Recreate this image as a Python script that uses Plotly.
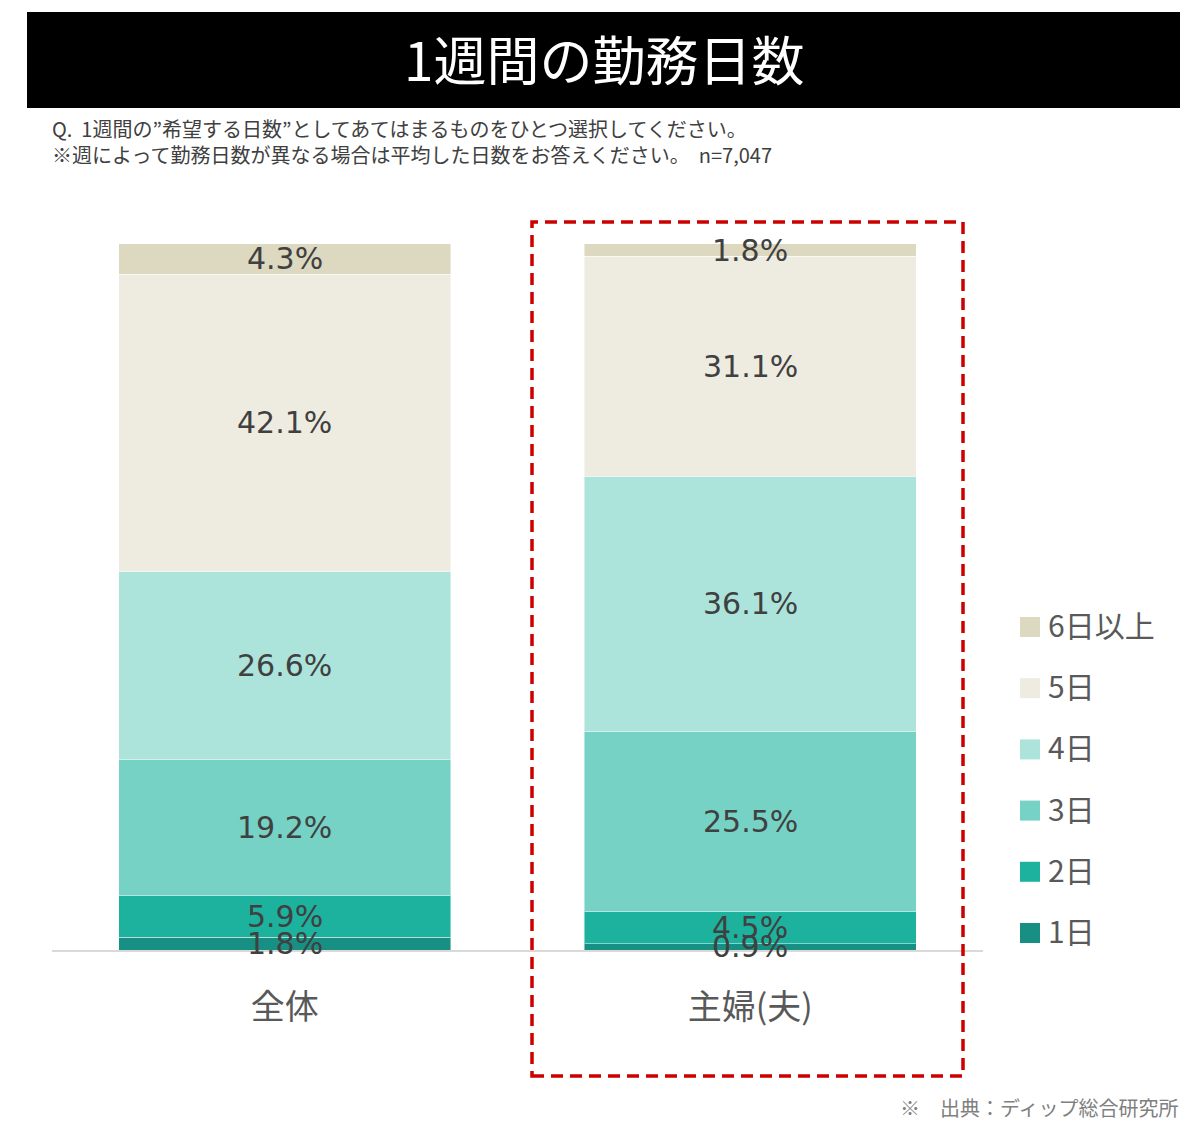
import plotly.graph_objects as go

# data
categories = ["全体", "主婦(夫)"]
series_names = ["1日", "2日", "3日", "4日", "5日", "6日以上"]
day1 = [1.8, 0.9]
day2 = [5.9, 4.5]
day3 = [19.2, 25.5]
day4 = [26.6, 36.1]
day5 = [42.1, 31.1]
day6_plus = [4.3, 1.8]

series_values = [day1, day2, day3, day4, day5, day6_plus]
colors = ["#178f82", "#1cb29e", "#76d2c4", "#ace4db", "#eeebe0", "#ddd8c0"]

W, H = 1200, 1142
OFF = 8  # page body margin
# plot area in reference pixels
PL, PR, PT, PB = 52, 983, 243, 950


def px_x(px):
    return (px - PL) / (PR - PL)


def px_y(py):
    return (PB - py) / (PB - PT)


fig = go.Figure()

for name, vals, color in zip(series_names, series_values, colors):
    fig.add_trace(go.Bar(
        x=categories,
        y=vals,
        name=name,
        marker=dict(color=color, line=dict(color="rgba(255,255,255,0.45)", width=1)),
        showlegend=False,
    ))

annotations = []

# value labels at segment centres
base = [0.0] * len(categories)
for vals in series_values:
    for i, (cat, v) in enumerate(zip(categories, vals)):
        annotations.append(dict(
            x=cat, y=base[i] + v / 2, xref="x", yref="y",
            text=f"{v:.1f}%", showarrow=False,
            xanchor="center", yanchor="middle",
            font=dict(size=30, color="#404040", family="DejaVu Sans, Noto Sans CJK JP"),
        ))
        base[i] += v

# legend drawn by hand (larger swatches, wide spacing)
shapes = []
leg_top, leg_step = 627, 61.2
for k, (name, color) in enumerate(reversed(list(zip(series_names, colors)))):
    cy = leg_top + k * leg_step
    shapes.append(dict(type="rect", xref="paper", yref="paper",
                       x0=px_x(1020), x1=px_x(1040), y0=px_y(cy + 10), y1=px_y(cy - 10),
                       fillcolor=color, line=dict(width=0)))
    annotations.append(dict(text=name, xref="paper", yref="paper",
                            x=px_x(1046), y=px_y(cy - 3), xanchor="left", yanchor="middle",
                            showarrow=False,
                            font=dict(size=30, color="#595959", family="Noto Sans CJK JP")))

shapes += [
    # black title band
    dict(type="rect", xref="paper", yref="paper",
         x0=px_x(27), x1=px_x(1180), y0=px_y(108), y1=px_y(12),
         fillcolor="black", line=dict(width=0), layer="below"),
    # red dashed highlight box
    dict(type="rect", xref="paper", yref="paper",
         x0=px_x(532), x1=px_x(963), y0=px_y(1076), y1=px_y(222),
         fillcolor="rgba(0,0,0,0)",
         line=dict(color="#cc0000", width=3.5, dash="12px,7px"), layer="above"),
]

annotations += [
    dict(text="1週間の勤務日数", xref="paper", yref="paper",
         x=px_x(604), y=px_y(58), xanchor="center", yanchor="middle",
         showarrow=False,
         font=dict(size=53, color="white", family="Noto Sans CJK JP")),
    dict(text="Q.  1週間の\u201d希望する日数\u201dとしてあてはまるものをひとつ選択してください。",
         xref="paper", yref="paper", x=px_x(50), y=px_y(129),
         xanchor="left", yanchor="middle", showarrow=False,
         font=dict(size=20, color="#404040", family="Noto Sans CJK JP")),
    dict(text="※週によって勤務日数が異なる場合は平均した日数をお答えください。  n=7,047",
         xref="paper", yref="paper", x=px_x(50), y=px_y(154),
         xanchor="left", yanchor="middle", showarrow=False,
         font=dict(size=20, color="#404040", family="Noto Sans CJK JP")),
    dict(text="※　出典：ディップ総合研究所", xref="paper", yref="paper",
         x=px_x(1181), y=px_y(1107), xanchor="right", yanchor="middle",
         showarrow=False,
         font=dict(size=20, color="#808080", family="Noto Sans CJK JP")),
]

fig.update_layout(
    width=W,
    height=H,
    margin=dict(l=PL - OFF, r=W - (PR - OFF), t=PT - OFF, b=H - (PB - OFF), pad=0),
    barmode="stack",
    bargap=0.287,
    plot_bgcolor="white",
    paper_bgcolor="white",
    showlegend=False,
    font=dict(family="Noto Sans CJK JP", color="#595959"),
    xaxis=dict(
        showline=True, linecolor="#d9d9d9", linewidth=2,
        showgrid=False, ticks="", ticklen=0, ticklabelstandoff=26,
        tickfont=dict(size=34, color="#595959", family="Noto Sans CJK JP"),
    ),
    yaxis=dict(range=[0, 100], visible=False, showgrid=False, zeroline=False),
    shapes=shapes,
    annotations=annotations,
)

fig.write_html("out.html")
